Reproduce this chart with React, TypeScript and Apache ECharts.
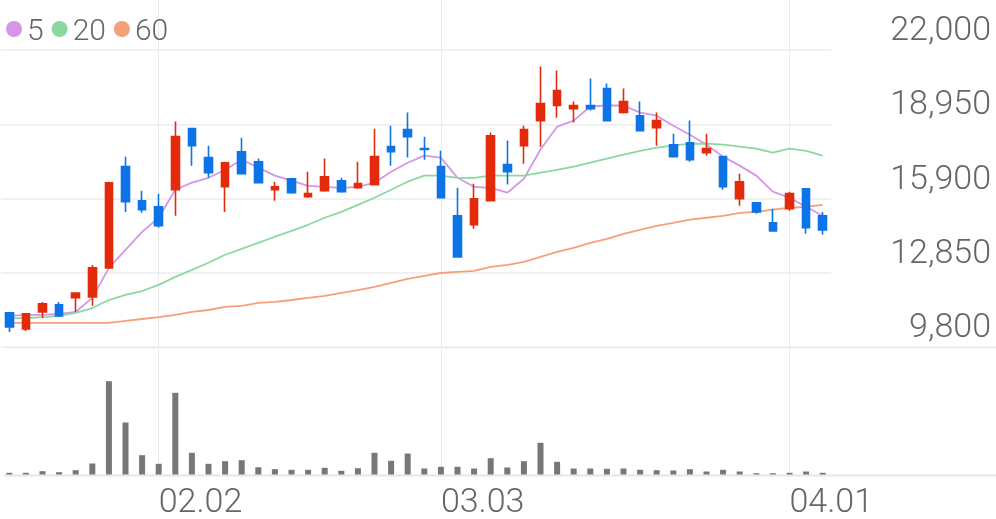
import React, { useEffect, useRef } from "react";
import * as echarts from "echarts";

const dates = [
  "01.20", "01.21", "01.22", "01.23", "01.26", "01.27", "01.28", "01.29", "01.30",
  "02.02", "02.03", "02.04", "02.05", "02.06", "02.09", "02.10", "02.11", "02.12", "02.13",
  "02.19", "02.20", "02.23", "02.24", "02.25", "02.26", "02.27",
  "03.03", "03.04", "03.05", "03.06", "03.09", "03.10", "03.11", "03.12", "03.13",
  "03.16", "03.17", "03.18", "03.19", "03.20", "03.23", "03.24", "03.25", "03.26", "03.27",
  "03.30", "03.31", "04.01", "04.02", "04.03",
];

const labelDates = ["02.02", "03.03", "04.01"];

const opens = [
  11200, 10540, 11240, 11530, 11820, 11860, 13050, 17210, 15810, 15560,
  16260, 18770, 17580, 16380, 17820, 17410, 16260, 16710, 15970, 16220,
  16630, 16340, 16470, 18030, 18730, 17950, 17210, 15190, 14820, 15810,
  17290, 18070, 19100, 19720, 19590, 19720, 20420, 19430, 19300, 18810,
  18110, 18190, 17780, 17620, 15890, 15720, 14900, 15480, 16300, 15190,
];
const closes = [
  10620, 11160, 11570, 11080, 12020, 13050, 16550, 15770, 15440, 14780,
  18440, 18070, 16960, 17370, 16920, 16550, 16380, 16140, 16100, 16790,
  16180, 16510, 17620, 17820, 18440, 17910, 15930, 13500, 15890, 18480,
  17000, 18730, 19800, 20330, 19720, 19590, 19100, 19880, 18690, 19100,
  17620, 17490, 17950, 16380, 16590, 15350, 14570, 16100, 14700, 14610,
];
const lows = [
  10420, 10460, 10990, 11030, 11240, 11490, 13050, 15350, 15310, 14700,
  15190, 17250, 16750, 15350, 16920, 16550, 15810, 16100, 15930, 16180,
  16140, 16300, 16470, 17250, 17580, 17490, 15930, 13500, 14660, 15810,
  16470, 17330, 18030, 19220, 19020, 19510, 19100, 19390, 18690, 18070,
  17620, 17410, 17660, 16260, 15600, 15270, 14570, 15400, 14450, 14410,
];
const highs = [
  11240, 11180, 11650, 11650, 12040, 13170, 16550, 17620, 16220, 16100,
  19060, 18770, 18070, 17410, 18400, 17540, 16590, 16750, 17000, 17540,
  16750, 17410, 18770, 18890, 19430, 18440, 17860, 16340, 16510, 18610,
  18280, 18890, 21320, 21160, 19880, 20830, 20620, 20420, 19880, 19430,
  18560, 19100, 18560, 17620, 16920, 15720, 15480, 16180, 16300, 15350,
];

const ma5 = [
  11080, 11120, 11120, 11160, 11240, 11820, 13050, 13790, 14530, 15110,
  16260, 16550, 16750, 17080, 17490, 17170, 16840, 16630, 16420, 16380,
  16340, 16380, 16550, 17000, 17370, 17660, 17580, 16750, 16380, 16340,
  16140, 16710, 17910, 18850, 19100, 19680, 19720, 19720, 19430, 19300,
  18890, 18520, 18110, 17620, 17250, 16840, 16180, 15930, 15560, 15190,
];
const ma20 = [
  10990, 10990, 11030, 11080, 11200, 11400, 11730, 11940, 12100, 12350,
  12680, 12970, 13260, 13590, 13830, 14080, 14330, 14570, 14820, 15110,
  15350, 15640, 15930, 16260, 16590, 16840, 16840, 16750, 16750, 16840,
  16840, 16840, 16960, 17080, 17210, 17370, 17540, 17700, 17860, 17990,
  18070, 18150, 18150, 18110, 18030, 17950, 17780, 17950, 17860, 17660,
];
const ma60 = [
  10790, 10790, 10790, 10790, 10790, 10790, 10790, 10870, 10950, 11030,
  11120, 11240, 11320, 11450, 11490, 11610, 11650, 11730, 11820, 11900,
  12020, 12140, 12270, 12430, 12600, 12720, 12840, 12890, 12930, 13090,
  13170, 13300, 13500, 13710, 13870, 14080, 14240, 14450, 14610, 14780,
  14900, 15030, 15110, 15190, 15310, 15350, 15440, 15520, 15560, 15640,
];

const volumes = [
  17000, 17000, 33000, 23000, 43000, 110000, 933000, 520000, 193000, 107000,
  817000, 217000, 107000, 133000, 143000, 73000, 53000, 47000, 47000, 67000,
  37000, 63000, 217000, 137000, 210000, 60000, 77000, 77000, 60000, 163000,
  70000, 133000, 317000, 127000, 60000, 60000, 57000, 60000, 47000, 43000,
  40000, 53000, 30000, 47000, 30000, 13000, 13000, 17000, 30000, 17000,
];

const yTicks = { min: 9800, max: 22000, interval: 3050 };

const UP = "#e32a0b";
const DOWN = "#0c74e6";
const C5 = "#d596e8";
const C20 = "#8bd9a0";
const C60 = "#f6a07a";
const TEXT = "#666666";
const FONT = "Roboto";

export default function App() {
  const ref = useRef<HTMLDivElement>(null);

  useEffect(() => {
    document.body.style.margin = "0";
    const chart = echarts.init(ref.current!, null, { renderer: "svg" });

    const W = 996;
    const gridLeft = 1;
    const gridWidth = 830;
    const mainTop = 50;
    const mainHeight = 297;
    const volTop = 374.5;
    const volHeight = 100;
    const band = gridWidth / dates.length;

    const candleData = dates.map((_, i) => [opens[i], closes[i], lows[i], highs[i]]);
    const showLabel = (_idx: number, value: string) => labelDates.includes(value);

    const option: any = {
      animation: false,
      textStyle: { fontFamily: FONT },
      legend: {
        left: 1,
        top: 9,
        icon: "circle",
        itemWidth: 16,
        itemHeight: 16,
        itemGap: 8,
        data: ["5", "20", "60"],
        textStyle: { fontSize: 30, color: TEXT, fontFamily: FONT, fontWeight: 300 },
      },
      grid: [
        { left: gridLeft, top: mainTop, width: gridWidth, height: mainHeight },
        { left: gridLeft, top: volTop, width: gridWidth, height: volHeight },
        {
          left: gridLeft + band / 2,
          top: 0,
          width: gridWidth - band,
          height: volTop + volHeight,
        },
      ],
      xAxis: [
        { type: "category", gridIndex: 0, data: dates, boundaryGap: true, show: false },
        { type: "category", gridIndex: 1, data: dates, boundaryGap: true, show: false },
        {
          type: "category",
          gridIndex: 2,
          data: dates,
          boundaryGap: false,
          axisLine: { show: false },
          axisTick: { show: false },
          axisLabel: {
            interval: showLabel,
            align: "left",
            verticalAlign: "top",
            fontSize: 34,
            lineHeight: 34,
            fontWeight: 300,
            color: TEXT,
            fontFamily: FONT,
            margin: 8,
          },
          splitLine: {
            show: true,
            interval: showLabel,
            lineStyle: { color: "#ececec", width: 1 },
          },
        },
      ],
      yAxis: [
        {
          type: "value",
          gridIndex: 0,
          position: "right",
          min: yTicks.min,
          max: yTicks.max,
          interval: yTicks.interval,
          axisLine: { show: false },
          axisTick: { show: false },
          axisLabel: {
            align: "right",
            verticalAlign: "bottom",
            margin: 160,
            fontSize: 34,
            lineHeight: 34,
            padding: [0, 0, 5, 0],
            fontWeight: 300,
            color: TEXT,
            fontFamily: FONT,
            formatter: (v: number) => v.toLocaleString("en-US"),
          },
          splitLine: { show: true, lineStyle: { color: "#f1f1f1", width: 2 } },
        },
        { type: "value", gridIndex: 1, min: 0, max: 1000000, show: false },
        { type: "value", gridIndex: 2, min: 0, max: 1, show: false },
      ],
      graphic: [
        {
          type: "line",
          shape: { x1: 4, y1: mainTop + mainHeight + 0.5, x2: W, y2: mainTop + mainHeight + 0.5 },
          style: { stroke: "#ededed", lineWidth: 2 },
          z: 1,
        },
        {
          type: "line",
          shape: { x1: 4, y1: volTop + volHeight + 1, x2: W, y2: volTop + volHeight + 1 },
          style: { stroke: "#e6e6e6", lineWidth: 2 },
          z: 1,
        },
      ],
      series: [
        {
          type: "candlestick",
          xAxisIndex: 0,
          yAxisIndex: 0,
          data: candleData,
          barWidth: 8,
          itemStyle: {
            color: UP,
            color0: DOWN,
            borderColor: UP,
            borderColor0: DOWN,
            borderWidth: 1.6,
          },
          z: 5,
        },
        {
          name: "5",
          type: "line",
          xAxisIndex: 0,
          yAxisIndex: 0,
          data: ma5,
          showSymbol: false,
          symbol: "none",
          lineStyle: { color: C5, width: 1.8 },
          itemStyle: { color: C5 },
          z: 4,
        },
        {
          name: "20",
          type: "line",
          xAxisIndex: 0,
          yAxisIndex: 0,
          data: ma20,
          showSymbol: false,
          symbol: "none",
          lineStyle: { color: C20, width: 1.8 },
          itemStyle: { color: C20 },
          z: 4,
        },
        {
          name: "60",
          type: "line",
          xAxisIndex: 0,
          yAxisIndex: 0,
          data: ma60,
          showSymbol: false,
          symbol: "none",
          lineStyle: { color: C60, width: 1.8 },
          itemStyle: { color: C60 },
          z: 4,
        },
        {
          type: "bar",
          xAxisIndex: 1,
          yAxisIndex: 1,
          data: volumes,
          barWidth: 6,
          itemStyle: { color: "#777777" },
          z: 3,
        },
      ],
    };

    chart.setOption(option);
    return () => chart.dispose();
  }, []);

  return (
    <div
      ref={ref}
      style={{ position: "fixed", left: 0, top: 0, width: 996, height: 519 }}
    />
  );
}
